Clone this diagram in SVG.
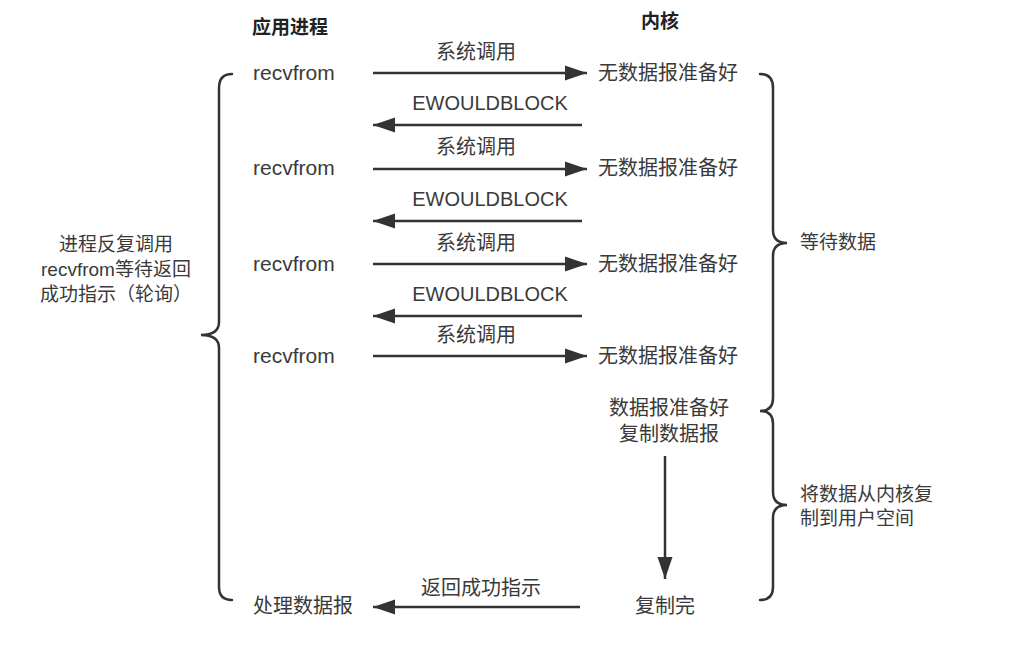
<svg xmlns="http://www.w3.org/2000/svg" width="1030" height="645" viewBox="0 0 1030 645">
<defs>
<style>
.t{font-family:"Liberation Sans","Noto Sans CJK SC",sans-serif;font-size:20px;fill:#3a3a3a}
.s{font-family:"Liberation Sans","Noto Sans CJK SC",sans-serif;font-size:19px;fill:#3a3a3a}
.e{font-family:"Liberation Sans","Noto Sans CJK SC",sans-serif;font-size:20px;fill:#3a3a3a}
.r{font-family:"Liberation Sans","Noto Sans CJK SC",sans-serif;font-size:21px;fill:#3a3a3a}
.h{font-family:"Liberation Sans","Noto Sans CJK SC",sans-serif;font-size:19px;font-weight:bold;fill:#222}
.ln{stroke:#333;stroke-width:2.5;fill:none}
.br{stroke:#333;stroke-width:2.5;fill:none;stroke-linecap:round}
</style>
<marker id="ah" markerUnits="userSpaceOnUse" markerWidth="24" markerHeight="18" refX="22" refY="9" orient="auto">
<path d="M0,1.5 L22,9 L0,16.5 Z" fill="#333"/>
</marker>
</defs>
<rect width="1030" height="645" fill="#fff"/>
<g id="headers">
<text class="h" x="290" y="34" text-anchor="middle">应用进程</text>
<text class="h" x="660" y="28" text-anchor="middle">内核</text>
</g>
<g id="connectors">
<line class="ln" x1="373" y1="73" x2="587" y2="73" marker-end="url(#ah)"/>
<line class="ln" x1="582" y1="125" x2="373" y2="125" marker-end="url(#ah)"/>
<line class="ln" x1="373" y1="169" x2="587" y2="169" marker-end="url(#ah)"/>
<line class="ln" x1="582" y1="221" x2="373" y2="221" marker-end="url(#ah)"/>
<line class="ln" x1="373" y1="264" x2="587" y2="264" marker-end="url(#ah)"/>
<line class="ln" x1="582" y1="316" x2="373" y2="316" marker-end="url(#ah)"/>
<line class="ln" x1="373" y1="356" x2="587" y2="356" marker-end="url(#ah)"/>
<line class="ln" x1="580" y1="607" x2="373" y2="607" marker-end="url(#ah)"/>
<line class="ln" x1="665" y1="456" x2="665" y2="579" marker-end="url(#ah)"/>
<text class="t" x="476" y="59" text-anchor="middle">系统调用</text>
<text class="e" x="490" y="110" text-anchor="middle">EWOULDBLOCK</text>
<text class="t" x="476" y="154" text-anchor="middle">系统调用</text>
<text class="e" x="490" y="206" text-anchor="middle">EWOULDBLOCK</text>
<text class="t" x="476" y="250" text-anchor="middle">系统调用</text>
<text class="e" x="490" y="301" text-anchor="middle">EWOULDBLOCK</text>
<text class="t" x="476" y="342" text-anchor="middle">系统调用</text>
<text class="t" x="481" y="595" text-anchor="middle">返回成功指示</text>
</g>
<g id="app">
<text class="r" x="253" y="80">recvfrom</text>
<text class="r" x="253" y="175">recvfrom</text>
<text class="r" x="253" y="271">recvfrom</text>
<text class="r" x="253" y="363">recvfrom</text>
<text class="t" x="253" y="613">处理数据报</text>
</g>
<g id="kernel">
<text class="t" x="598" y="80">无数据报准备好</text>
<text class="t" x="598" y="175">无数据报准备好</text>
<text class="t" x="598" y="271">无数据报准备好</text>
<text class="t" x="598" y="363">无数据报准备好</text>
<text class="t" x="669" y="415" text-anchor="middle">数据报准备好</text>
<text class="t" x="669" y="441" text-anchor="middle">复制数据报</text>
<text class="t" x="665" y="613" text-anchor="middle">复制完</text>
</g>
<g id="left-brace">
<path class="br" d="M232,74 Q219,74 219,88 L219,322 Q219,335 201,335 Q219,335 219,348 L219,587 Q219,600 232,600"/>
<text class="s" x="116" y="251" text-anchor="middle">进程反复调用</text>
<text class="s" x="116" y="276" text-anchor="middle">recvfrom等待返回</text>
<text class="s" x="116" y="301" text-anchor="middle">成功指示（轮询）</text>
</g>
<g id="right-brace">
<path class="br" d="M760,74 Q773,74 773,88 L773,230 Q773,243 787,243 Q773,243 773,256 L773,398 Q773,411 760,411 Q773,411 773,424 L773,492 Q773,505 787,505 Q773,505 773,518 L773,587 Q773,600 760,600"/>
<text class="s" x="800" y="249">等待数据</text>
<text class="s" x="800" y="501">将数据从内核复</text>
<text class="s" x="800" y="525">制到用户空间</text>
</g>
</svg>
